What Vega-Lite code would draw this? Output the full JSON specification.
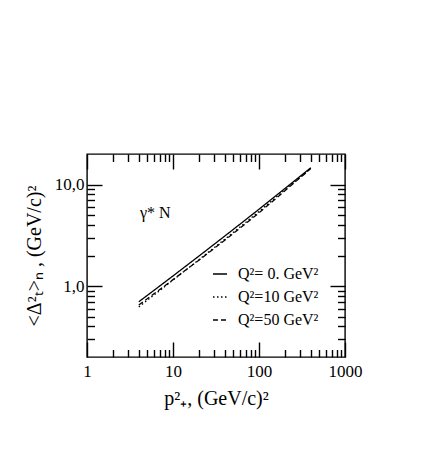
{
  "$schema": "https://vega.github.io/schema/vega-lite/v6.json",
  "autosize": "none",
  "width": 258,
  "height": 203,
  "padding": {"left": 87, "top": 154, "right": 80, "bottom": 114},
  "background": "white",
  "config": {
    "font": "Liberation Serif",
    "view": {"stroke": "black", "strokeWidth": 1.4},
    "axis": {"grid": false, "domain": false, "tickColor": "black", "tickWidth": 1.4, "labelColor": "black", "titleColor": "black", "labelFont": "Liberation Serif", "titleFont": "Liberation Serif", "titleFontWeight": "normal"},
    "legend": {"labelFont": "Liberation Serif"}
  },
  "datasets": {
    "curves": [
      {"p2": 4, "d2": 0.700, "q": "Q²= 0. GeV²"},
      {"p2": 6, "d2": 0.906, "q": "Q²= 0. GeV²"},
      {"p2": 10, "d2": 1.258, "q": "Q²= 0. GeV²"},
      {"p2": 20, "d2": 1.973, "q": "Q²= 0. GeV²"},
      {"p2": 40, "d2": 3.11, "q": "Q²= 0. GeV²"},
      {"p2": 70, "d2": 4.50, "q": "Q²= 0. GeV²"},
      {"p2": 100, "d2": 5.72, "q": "Q²= 0. GeV²"},
      {"p2": 200, "d2": 9.13, "q": "Q²= 0. GeV²"},
      {"p2": 400, "d2": 14.65, "q": "Q²= 0. GeV²"},
      {"p2": 4, "d2": 0.623, "q": "Q²=10 GeV²"},
      {"p2": 6, "d2": 0.815, "q": "Q²=10 GeV²"},
      {"p2": 10, "d2": 1.145, "q": "Q²=10 GeV²"},
      {"p2": 20, "d2": 1.815, "q": "Q²=10 GeV²"},
      {"p2": 40, "d2": 2.892, "q": "Q²=10 GeV²"},
      {"p2": 70, "d2": 4.23, "q": "Q²=10 GeV²"},
      {"p2": 100, "d2": 5.43, "q": "Q²=10 GeV²"},
      {"p2": 200, "d2": 8.86, "q": "Q²=10 GeV²"},
      {"p2": 400, "d2": 14.5, "q": "Q²=10 GeV²"},
      {"p2": 4, "d2": 0.651, "q": "Q²=50 GeV²"},
      {"p2": 6, "d2": 0.838, "q": "Q²=50 GeV²"},
      {"p2": 10, "d2": 1.157, "q": "Q²=50 GeV²"},
      {"p2": 20, "d2": 1.795, "q": "Q²=50 GeV²"},
      {"p2": 40, "d2": 2.830, "q": "Q²=50 GeV²"},
      {"p2": 70, "d2": 4.12, "q": "Q²=50 GeV²"},
      {"p2": 100, "d2": 5.26, "q": "Q²=50 GeV²"},
      {"p2": 200, "d2": 8.67, "q": "Q²=50 GeV²"},
      {"p2": 400, "d2": 14.36, "q": "Q²=50 GeV²"}
    ],
    "label": [
      {"p2": 4.13, "d2": 5.2, "text": "γ* N"}
    ]
  },
  "layer": [
    {
      "data": {"name": "curves"},
      "mark": {"type": "line", "color": "black", "strokeWidth": 1.3, "clip": true},
      "encoding": {
        "x": {
          "field": "p2", "type": "quantitative",
          "scale": {"type": "log", "domain": [1, 1000], "nice": false},
          "axis": {
            "orient": "bottom",
            "title": "p²₊, (GeV/c)²",
            "titleFontSize": 20,
            "titlePadding": 2,
            "values": [1,2,3,4,5,6,7,8,9,10,20,30,40,50,60,70,80,90,100,200,300,400,500,600,700,800,900,1000],
            "tickSize": {"condition": {"test": "datum.value == 1 || datum.value == 10 || datum.value == 100 || datum.value == 1000", "value": -15}, "value": -7.5},
            "labelExpr": "(datum.value == 1 || datum.value == 10 || datum.value == 100 || datum.value == 1000) ? format(datum.value, 'd') : ''",
            "labelFontSize": 17,
            "labelPadding": 21,
            "labelFlush": false,
            "labelOverlap": false
          }
        },
        "y": {
          "field": "d2", "type": "quantitative",
          "scale": {"type": "log", "domain": [0.2, 20], "nice": false},
          "axis": {
            "orient": "left",
            "title": "<Δ²ₜ>ₙ , (GeV/c)²",
            "titleFontSize": 20,
            "titlePadding": 10,
            "values": [0.3,0.4,0.5,0.6,0.7,0.8,0.9,1,2,3,4,5,6,7,8,9,10],
            "tickSize": {"condition": {"test": "datum.value == 1 || datum.value == 10", "value": -15}, "value": -7.5},
            "labelExpr": "datum.value == 1 ? '1,0' : (datum.value == 10 ? '10,0' : '')",
            "labelFontSize": 17,
            "labelPadding": 18,
            "labelOverlap": false
          }
        },
        "strokeDash": {
          "field": "q", "type": "nominal",
          "scale": {"domain": ["Q²= 0. GeV²", "Q²=10 GeV²", "Q²=50 GeV²"], "range": [[1, 0], [1.5, 2.5], [5, 3]]},
          "legend": {
            "title": null,
            "orient": "none",
            "legendX": 125,
            "legendY": 112,
            "padding": 0,
            "symbolType": "stroke",
            "symbolSize": 196,
            "symbolStrokeColor": "black",
            "symbolStrokeWidth": 1.3,
            "labelFontSize": 16,
            "labelColor": "black",
            "labelOffset": 10,
            "rowPadding": 7
          }
        }
      }
    },
    {
      "data": {"name": "label"},
      "mark": {"type": "text", "align": "left", "baseline": "middle", "fontSize": 16, "font": "Liberation Serif", "color": "black"},
      "encoding": {
        "x": {
          "field": "p2", "type": "quantitative",
          "axis": {
            "orient": "top", "title": null, "labels": false,
            "values": [1,2,3,4,5,6,7,8,9,10,20,30,40,50,60,70,80,90,100,200,300,400,500,600,700,800,900,1000],
            "tickSize": {"condition": {"test": "datum.value == 1 || datum.value == 10 || datum.value == 100 || datum.value == 1000", "value": -15}, "value": -7.5}
          }
        },
        "y": {
          "field": "d2", "type": "quantitative",
          "axis": {
            "orient": "right", "title": null, "labels": false,
            "values": [0.3,0.4,0.5,0.6,0.7,0.8,0.9,1,2,3,4,5,6,7,8,9,10],
            "tickSize": {"condition": {"test": "datum.value == 1 || datum.value == 10", "value": -15}, "value": -7.5}
          }
        },
        "text": {"field": "text"}
      }
    }
  ],
  "resolve": {"axis": {"x": "independent", "y": "independent"}}
}
